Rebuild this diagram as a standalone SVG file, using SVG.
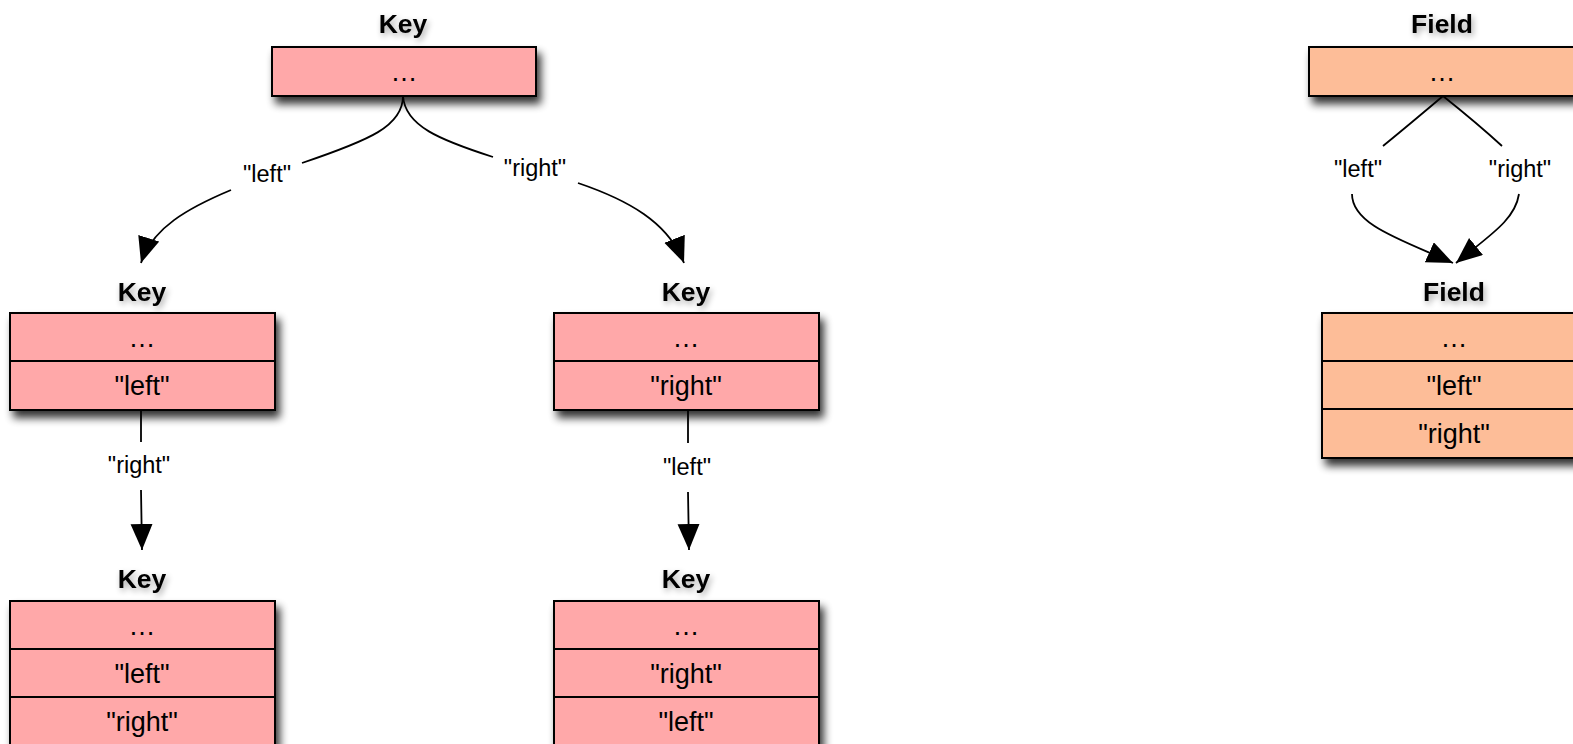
<svg xmlns="http://www.w3.org/2000/svg" width="1573" height="744" viewBox="0 0 1573 744">
  <defs>
    <!-- soft drop shadow for record boxes -->
    <filter id="boxShadow" x="-10%" y="-20%" width="130%" height="170%">
      <feGaussianBlur in="SourceAlpha" stdDeviation="4.5"/>
      <feOffset dx="4" dy="7" result="blur"/>
      <feComponentTransfer><feFuncA type="linear" slope="0.8"/></feComponentTransfer>
      <feMerge><feMergeNode/><feMergeNode in="SourceGraphic"/></feMerge>
    </filter>
    <!-- lighter shadow for the titles -->
    <filter id="titleShadow" x="-30%" y="-40%" width="160%" height="200%">
      <feGaussianBlur in="SourceAlpha" stdDeviation="3"/>
      <feOffset dx="2" dy="3"/>
      <feComponentTransfer><feFuncA type="linear" slope="0.35"/></feComponentTransfer>
      <feMerge><feMergeNode/><feMergeNode in="SourceGraphic"/></feMerge>
    </filter>
    <marker id="arrow" markerUnits="userSpaceOnUse" markerWidth="28" markerHeight="24" refX="26" refY="11" orient="auto">
      <path d="M0,0 L26,11 L0,22 z" fill="#000"/>
    </marker>
  </defs>
  <style>
    text { font-family: "Liberation Sans", Arial, Helvetica, sans-serif; fill: #000; text-anchor: middle; }
    .title { font-size: 26.5px; font-weight: bold; filter: url(#titleShadow); }
    .cell { font-size: 27px; }
    .label { font-size: 23.5px; }
    .key { fill: #ffa8a9; stroke: #000; stroke-width: 2; filter: url(#boxShadow); }
    .field { fill: #fdbd98; stroke: #000; stroke-width: 2; filter: url(#boxShadow); }
    .div { stroke: #000; stroke-width: 2; }
    .edge { fill: none; stroke: #000; stroke-width: 1.8; }
  </style>

  <rect width="1573" height="744" fill="#fff"/>

  <!-- connectors -->
  <g id="connectors">
    <path class="edge" d="M403,96 C403,126 370,140 302,163 M231,190 C188,208 152,228 141,263" marker-end="url(#arrow)"/>
    <path class="edge" d="M403,96 C405,126 440,140 493,157 M578,183 C628,200 668,222 684,263" marker-end="url(#arrow)"/>
    <path class="edge" d="M141,410 L141,442 M141,490 L142,550" marker-end="url(#arrow)"/>
    <path class="edge" d="M688,410 L688,443 M688,492 L689,550" marker-end="url(#arrow)"/>
    <path class="edge" d="M1443,96 Q1410,124 1383,146 M1352,194 C1352,225 1402,240 1453,263" marker-end="url(#arrow)"/>
    <path class="edge" d="M1443,96 Q1478,124 1502,146 M1519,194 C1515,220 1490,235 1456,263" marker-end="url(#arrow)"/>
    <text class="label" x="267" y="182">"left"</text>
    <text class="label" x="535" y="176">"right"</text>
    <text class="label" x="139" y="473">"right"</text>
    <text class="label" x="687" y="475">"left"</text>
    <text class="label" x="1358" y="177">"left"</text>
    <text class="label" x="1520" y="177">"right"</text>
  </g>

  <!-- Key nodes -->
  <g id="key-root">
    <text class="title" x="403" y="33">Key</text>
    <rect class="key" x="272" y="47" width="264" height="49"/>
    <text class="cell" x="404" y="81">…</text>
  </g>

  <g id="key-left">
    <text class="title" x="142" y="301">Key</text>
    <rect class="key" x="10" y="313" width="265" height="97"/>
    <line class="div" x1="10" y1="361" x2="275" y2="361"/>
    <text class="cell" x="142" y="347">…</text>
    <text class="cell" x="142" y="395">"left"</text>
  </g>

  <g id="key-right">
    <text class="title" x="686" y="301">Key</text>
    <rect class="key" x="554" y="313" width="265" height="97"/>
    <line class="div" x1="554" y1="361" x2="819" y2="361"/>
    <text class="cell" x="686" y="347">…</text>
    <text class="cell" x="686" y="395">"right"</text>
  </g>

  <g id="key-left-right">
    <text class="title" x="142" y="588">Key</text>
    <rect class="key" x="10" y="601" width="265" height="147"/>
    <line class="div" x1="10" y1="649" x2="275" y2="649"/>
    <line class="div" x1="10" y1="697" x2="275" y2="697"/>
    <text class="cell" x="142" y="635">…</text>
    <text class="cell" x="142" y="683">"left"</text>
    <text class="cell" x="142" y="731">"right"</text>
  </g>

  <g id="key-right-left">
    <text class="title" x="686" y="588">Key</text>
    <rect class="key" x="554" y="601" width="265" height="147"/>
    <line class="div" x1="554" y1="649" x2="819" y2="649"/>
    <line class="div" x1="554" y1="697" x2="819" y2="697"/>
    <text class="cell" x="686" y="635">…</text>
    <text class="cell" x="686" y="683">"right"</text>
    <text class="cell" x="686" y="731">"left"</text>
  </g>

  <!-- Field nodes -->
  <g id="field-root">
    <text class="title" x="1442" y="33">Field</text>
    <rect class="field" x="1309" y="47" width="266" height="49"/>
    <text class="cell" x="1442" y="81">…</text>
  </g>

  <g id="field-child">
    <text class="title" x="1454" y="301">Field</text>
    <rect class="field" x="1322" y="313" width="266" height="145"/>
    <line class="div" x1="1322" y1="361" x2="1588" y2="361"/>
    <line class="div" x1="1322" y1="409" x2="1588" y2="409"/>
    <text class="cell" x="1454" y="347">…</text>
    <text class="cell" x="1454" y="395">"left"</text>
    <text class="cell" x="1454" y="443">"right"</text>
  </g>
</svg>
